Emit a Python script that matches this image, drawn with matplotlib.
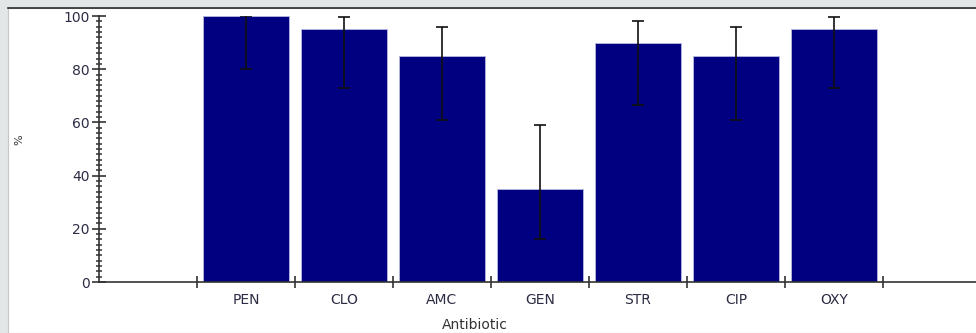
import matplotlib
matplotlib.use("Agg")
import matplotlib.pyplot as plt
from matplotlib.patches import Rectangle
from matplotlib.lines import Line2D
import numpy as np

plt.rcParams['font.family'] = ['DejaVu Sans']

antibiotics = ["PEN", "CLO", "AMC", "GEN", "STR", "CIP", "OXY"]
percent = [100, 95, 85, 35, 90, 85, 95]
ci_lower = [80, 72.8, 61, 16.3, 66.7, 61, 72.8]
ci_upper = [100, 99.5, 95.7, 58.9, 98, 95.7, 99.5]

W, H = 976, 333
fig = plt.figure(figsize=(W / 100, H / 100), dpi=100, facecolor="#e2e6e7")

# white panel with a dark top rule, kept behind the axes
fig.patches.append(Rectangle((8 / W, 0), 1.0, (H - 8) / H, transform=fig.transFigure,
                             facecolor="white", edgecolor="#c4c8ca", linewidth=0.8,
                             zorder=-10))
fig.lines.append(Line2D([8 / W, 1.0], [(H - 7.5) / H] * 2, transform=fig.transFigure,
                        color="#2b2b2b", linewidth=1.2, zorder=-9))

ax = fig.add_axes([99 / W, 51 / H, 882 / W, 266 / H])
ax.set_facecolor("none")
ax.set_zorder(5)

x = np.arange(len(antibiotics))
vals = np.array(percent)
yerr = np.vstack([vals - np.array(ci_lower), np.array(ci_upper) - vals])

ax.bar(x, vals, width=0.875, color="#000080", edgecolor="#b8b8e0", linewidth=0.6, zorder=2)
ax.errorbar(x, vals, yerr=yerr, fmt="none", ecolor="#111111", elinewidth=1.2,
            capsize=4.5, capthick=1.2, zorder=3)

ax.set_xlim(-1.5, 7.5)
ax.set_ylim(0, 100)

for s in ["top", "right"]:
    ax.spines[s].set_visible(False)
for s in ["left", "bottom"]:
    ax.spines[s].set_color("#333333")
    ax.spines[s].set_linewidth(1.2)
ax.spines["left"].set_zorder(4)

label_color = "#2c2c44"

# y axis
ax.set_yticks(np.arange(0, 101, 20))
ax.set_yticks(np.arange(0, 101, 2), minor=True)
ax.tick_params(axis="y", which="major", direction="inout", length=9.5, width=1.2,
               color="#333333", labelsize=10, labelcolor=label_color, pad=2)
ax.tick_params(axis="y", which="minor", direction="inout", length=5, width=1.1,
               color="#333333")

# x axis: ticks at category boundaries, labels at category centres
ax.set_xticks(np.arange(-0.5, len(antibiotics), 1.0))
ax.set_xticklabels([])
ax.set_xticks(x, minor=True)
ax.set_xticklabels(antibiotics, minor=True)
ax.tick_params(axis="x", which="major", direction="inout", length=8, width=1.2,
               color="#333333")
ax.tick_params(axis="x", which="minor", length=0, labelsize=10,
               labelcolor=label_color, pad=8)

fig.text(19 / W, 1 - 140 / H, "%", fontsize=8, color="#333333",
         ha="center", va="center", rotation=90)
fig.text(475 / W, 1 - 325 / H, "Antibiotic", fontsize=10, color="#333333",
         ha="center", va="center")

fig.savefig("out.png", dpi=100, facecolor=fig.get_facecolor())
